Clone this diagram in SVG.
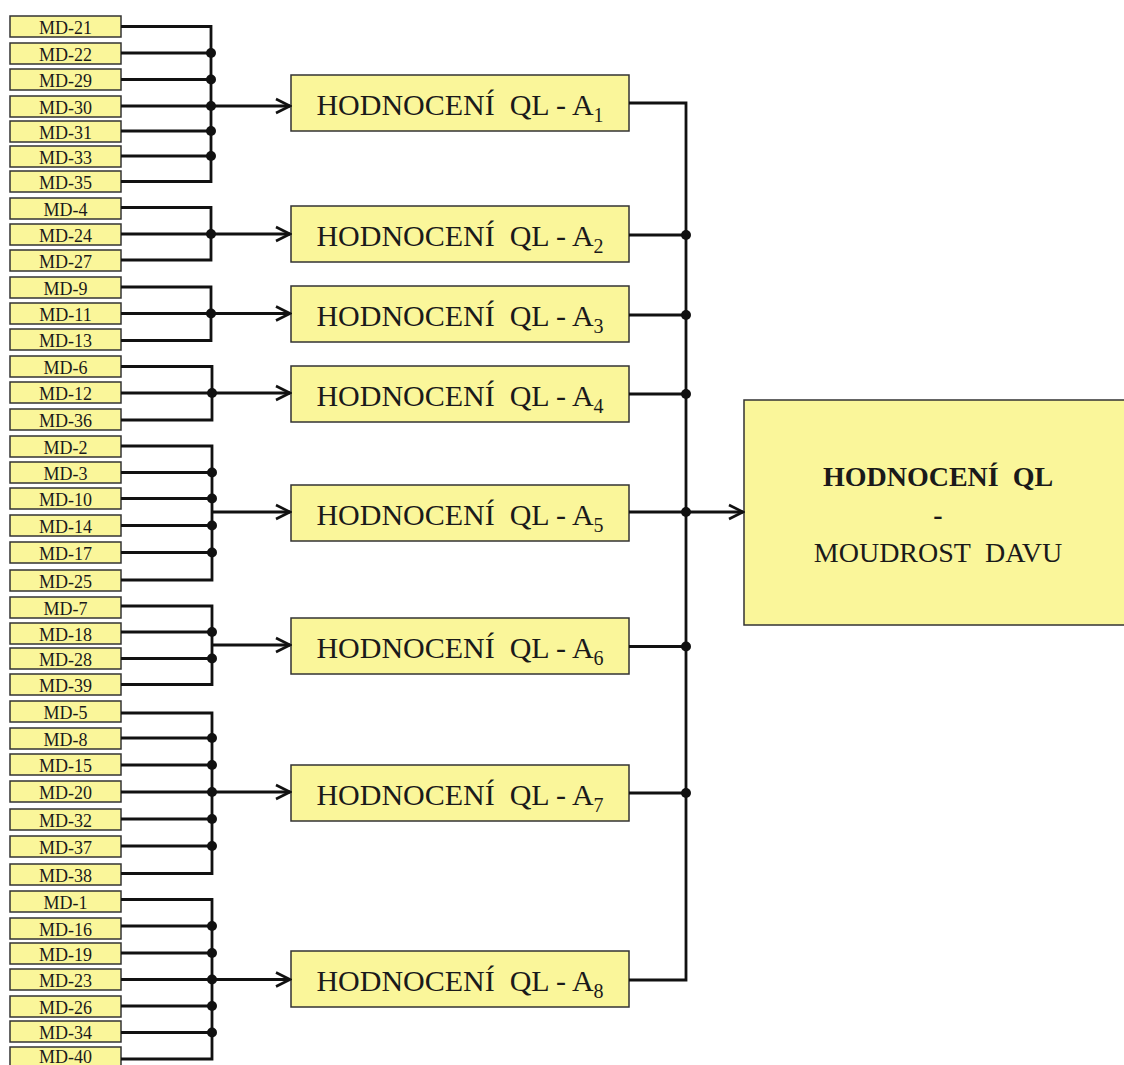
<svg xmlns="http://www.w3.org/2000/svg" width="1124" height="1065" viewBox="0 0 1124 1065">
<style>
text{font-family:'Liberation Serif','Times New Roman','DejaVu Serif',serif;fill:#1a1a1a;text-anchor:middle}
.md rect{fill:#FAF69A;stroke:#333;stroke-width:1.5}
.md text{font-size:18px}
.qa rect{fill:#FAF69A;stroke:#333;stroke-width:1.5}
.qa text{font-size:30px}
.qa tspan.s{font-size:20px}
.fin rect{fill:#FAF69A;stroke:#333;stroke-width:1.5}
.fin text{font-size:28px}
.c{fill:none;stroke:#111;stroke-width:2.8}
.d{fill:#111}
</style>
<defs>
<marker id="ah" markerUnits="userSpaceOnUse" markerWidth="18" markerHeight="18" viewBox="0 0 18 18" refX="16" refY="9" orient="auto">
<path d="M2,2 L16,9 L2,16" fill="none" stroke="#111" stroke-width="2.6"/>
</marker>
</defs>
<rect width="1124" height="1065" fill="#fff"/>

<g id="md-nodes">
<g id="md-21" class="md"><rect x="10" y="16" width="111" height="21"/><text x="65.5" y="34">MD-21</text></g>
<g id="md-22" class="md"><rect x="10" y="43" width="111" height="21"/><text x="65.5" y="61">MD-22</text></g>
<g id="md-29" class="md"><rect x="10" y="69" width="111" height="21"/><text x="65.5" y="87">MD-29</text></g>
<g id="md-30" class="md"><rect x="10" y="96" width="111" height="21"/><text x="65.5" y="114">MD-30</text></g>
<g id="md-31" class="md"><rect x="10" y="121" width="111" height="21"/><text x="65.5" y="139">MD-31</text></g>
<g id="md-33" class="md"><rect x="10" y="146" width="111" height="21"/><text x="65.5" y="164">MD-33</text></g>
<g id="md-35" class="md"><rect x="10" y="171" width="111" height="21"/><text x="65.5" y="189">MD-35</text></g>
<g id="md-4" class="md"><rect x="10" y="198" width="111" height="21"/><text x="65.5" y="216">MD-4</text></g>
<g id="md-24" class="md"><rect x="10" y="224" width="111" height="21"/><text x="65.5" y="242">MD-24</text></g>
<g id="md-27" class="md"><rect x="10" y="250" width="111" height="21"/><text x="65.5" y="268">MD-27</text></g>
<g id="md-9" class="md"><rect x="10" y="277" width="111" height="21"/><text x="65.5" y="295">MD-9</text></g>
<g id="md-11" class="md"><rect x="10" y="303" width="111" height="21"/><text x="65.5" y="321">MD-11</text></g>
<g id="md-13" class="md"><rect x="10" y="329" width="111" height="21"/><text x="65.5" y="347">MD-13</text></g>
<g id="md-6" class="md"><rect x="10" y="356" width="111" height="21"/><text x="65.5" y="374">MD-6</text></g>
<g id="md-12" class="md"><rect x="10" y="382" width="111" height="21"/><text x="65.5" y="400">MD-12</text></g>
<g id="md-36" class="md"><rect x="10" y="409" width="111" height="21"/><text x="65.5" y="427">MD-36</text></g>
<g id="md-2" class="md"><rect x="10" y="436" width="111" height="21"/><text x="65.5" y="454">MD-2</text></g>
<g id="md-3" class="md"><rect x="10" y="462" width="111" height="21"/><text x="65.5" y="480">MD-3</text></g>
<g id="md-10" class="md"><rect x="10" y="488" width="111" height="21"/><text x="65.5" y="506">MD-10</text></g>
<g id="md-14" class="md"><rect x="10" y="515" width="111" height="21"/><text x="65.5" y="533">MD-14</text></g>
<g id="md-17" class="md"><rect x="10" y="542" width="111" height="21"/><text x="65.5" y="560">MD-17</text></g>
<g id="md-25" class="md"><rect x="10" y="570" width="111" height="21"/><text x="65.5" y="588">MD-25</text></g>
<g id="md-7" class="md"><rect x="10" y="597" width="111" height="21"/><text x="65.5" y="615">MD-7</text></g>
<g id="md-18" class="md"><rect x="10" y="623" width="111" height="21"/><text x="65.5" y="641">MD-18</text></g>
<g id="md-28" class="md"><rect x="10" y="648" width="111" height="21"/><text x="65.5" y="666">MD-28</text></g>
<g id="md-39" class="md"><rect x="10" y="674" width="111" height="21"/><text x="65.5" y="692">MD-39</text></g>
<g id="md-5" class="md"><rect x="10" y="701" width="111" height="21"/><text x="65.5" y="719">MD-5</text></g>
<g id="md-8" class="md"><rect x="10" y="728" width="111" height="21"/><text x="65.5" y="746">MD-8</text></g>
<g id="md-15" class="md"><rect x="10" y="754" width="111" height="21"/><text x="65.5" y="772">MD-15</text></g>
<g id="md-20" class="md"><rect x="10" y="781" width="111" height="21"/><text x="65.5" y="799">MD-20</text></g>
<g id="md-32" class="md"><rect x="10" y="809" width="111" height="21"/><text x="65.5" y="827">MD-32</text></g>
<g id="md-37" class="md"><rect x="10" y="836" width="111" height="21"/><text x="65.5" y="854">MD-37</text></g>
<g id="md-38" class="md"><rect x="10" y="864" width="111" height="21"/><text x="65.5" y="882">MD-38</text></g>
<g id="md-1" class="md"><rect x="10" y="891" width="111" height="21"/><text x="65.5" y="909">MD-1</text></g>
<g id="md-16" class="md"><rect x="10" y="918" width="111" height="21"/><text x="65.5" y="936">MD-16</text></g>
<g id="md-19" class="md"><rect x="10" y="943" width="111" height="21"/><text x="65.5" y="961">MD-19</text></g>
<g id="md-23" class="md"><rect x="10" y="969" width="111" height="21"/><text x="65.5" y="987">MD-23</text></g>
<g id="md-26" class="md"><rect x="10" y="996" width="111" height="21"/><text x="65.5" y="1014">MD-26</text></g>
<g id="md-34" class="md"><rect x="10" y="1021" width="111" height="21"/><text x="65.5" y="1039">MD-34</text></g>
<g id="md-40" class="md"><rect x="10" y="1047" width="111" height="21"/><text x="65.5" y="1063">MD-40</text></g>
</g>

<g id="qa-nodes">
<g id="qa-1" class="qa"><rect x="291" y="75" width="338" height="56"/><text x="460" y="115">HODNOCENÍ&#160; QL - A<tspan class="s" dy="7">1</tspan></text></g>
<g id="qa-2" class="qa"><rect x="291" y="206" width="338" height="56"/><text x="460" y="246">HODNOCENÍ&#160; QL - A<tspan class="s" dy="7">2</tspan></text></g>
<g id="qa-3" class="qa"><rect x="291" y="286" width="338" height="56"/><text x="460" y="326">HODNOCENÍ&#160; QL - A<tspan class="s" dy="7">3</tspan></text></g>
<g id="qa-4" class="qa"><rect x="291" y="366" width="338" height="56"/><text x="460" y="406">HODNOCENÍ&#160; QL - A<tspan class="s" dy="7">4</tspan></text></g>
<g id="qa-5" class="qa"><rect x="291" y="485" width="338" height="56"/><text x="460" y="525">HODNOCENÍ&#160; QL - A<tspan class="s" dy="7">5</tspan></text></g>
<g id="qa-6" class="qa"><rect x="291" y="618" width="338" height="56"/><text x="460" y="658">HODNOCENÍ&#160; QL - A<tspan class="s" dy="7">6</tspan></text></g>
<g id="qa-7" class="qa"><rect x="291" y="765" width="338" height="56"/><text x="460" y="805">HODNOCENÍ&#160; QL - A<tspan class="s" dy="7">7</tspan></text></g>
<g id="qa-8" class="qa"><rect x="291" y="951" width="338" height="56"/><text x="460" y="991">HODNOCENÍ&#160; QL - A<tspan class="s" dy="7">8</tspan></text></g>
</g>

<g id="final" class="fin">
<rect x="744" y="400" width="390" height="225"/>
<text x="938" y="486" font-weight="bold">HODNOCENÍ&#160; QL</text>
<text x="938" y="524" font-weight="bold">-</text>
<text x="938" y="562">MOUDROST&#160; DAVU</text>
</g>

<g id="connectors">
<path class="c" d="M121,26.5 H211 V181.5 H121 M121,53 H211 M121,79.5 H211 M121,106 H211 M121,131 H211 M121,156 H211"/>
<path class="c" d="M211,106 H290" marker-end="url(#ah)"/>
<circle class="d" cx="211" cy="53" r="5"/><circle class="d" cx="211" cy="79.5" r="5"/><circle class="d" cx="211" cy="106" r="5"/><circle class="d" cx="211" cy="131" r="5"/><circle class="d" cx="211" cy="156" r="5"/>
<path class="c" d="M121,207.5 H211 V260 H121 M121,234 H211"/>
<path class="c" d="M211,234 H290" marker-end="url(#ah)"/>
<circle class="d" cx="211" cy="234" r="5"/>
<path class="c" d="M121,287 H211 V340.5 H121 M121,313.5 H211"/>
<path class="c" d="M211,313.5 H290" marker-end="url(#ah)"/>
<circle class="d" cx="211" cy="313.5" r="5"/>
<path class="c" d="M121,366.5 H212 V420 H121 M121,393 H212"/>
<path class="c" d="M212,393 H290" marker-end="url(#ah)"/>
<circle class="d" cx="212" cy="393" r="5"/>
<path class="c" d="M121,446 H212 V580 H121 M121,472.5 H212 M121,498.5 H212 M121,525.5 H212 M121,552.5 H212"/>
<path class="c" d="M212,512 H290" marker-end="url(#ah)"/>
<circle class="d" cx="212" cy="472.5" r="5"/><circle class="d" cx="212" cy="498.5" r="5"/><circle class="d" cx="212" cy="525.5" r="5"/><circle class="d" cx="212" cy="552.5" r="5"/>
<path class="c" d="M121,606 H212 V684.5 H121 M121,632 H212 M121,658.5 H212"/>
<path class="c" d="M212,645 H290" marker-end="url(#ah)"/>
<circle class="d" cx="212" cy="632" r="5"/><circle class="d" cx="212" cy="658.5" r="5"/>
<path class="c" d="M121,713 H212 V873.5 H121 M121,738 H212 M121,765 H212 M121,792 H212 M121,819 H212 M121,846 H212"/>
<path class="c" d="M212,792 H290" marker-end="url(#ah)"/>
<circle class="d" cx="212" cy="738" r="5"/><circle class="d" cx="212" cy="765" r="5"/><circle class="d" cx="212" cy="792" r="5"/><circle class="d" cx="212" cy="819" r="5"/><circle class="d" cx="212" cy="846" r="5"/>
<path class="c" d="M121,899.5 H212 V1059 H121 M121,926 H212 M121,953 H212 M121,979.5 H212 M121,1006 H212 M121,1032.5 H212"/>
<path class="c" d="M212,979.5 H290" marker-end="url(#ah)"/>
<circle class="d" cx="212" cy="926" r="5"/><circle class="d" cx="212" cy="953" r="5"/><circle class="d" cx="212" cy="979.5" r="5"/><circle class="d" cx="212" cy="1006" r="5"/><circle class="d" cx="212" cy="1032.5" r="5"/>
<path class="c" d="M629,103 H686 V980 H629 M629,235 H686 M629,315 H686 M629,394 H686 M629,512 H686 M629,646.5 H686 M629,793 H686"/>
<path class="c" d="M686,512 H743" marker-end="url(#ah)"/>
<circle class="d" cx="686" cy="235" r="5"/><circle class="d" cx="686" cy="315" r="5"/><circle class="d" cx="686" cy="394" r="5"/><circle class="d" cx="686" cy="512" r="5"/><circle class="d" cx="686" cy="646.5" r="5"/><circle class="d" cx="686" cy="793" r="5"/>
</g>
</svg>
